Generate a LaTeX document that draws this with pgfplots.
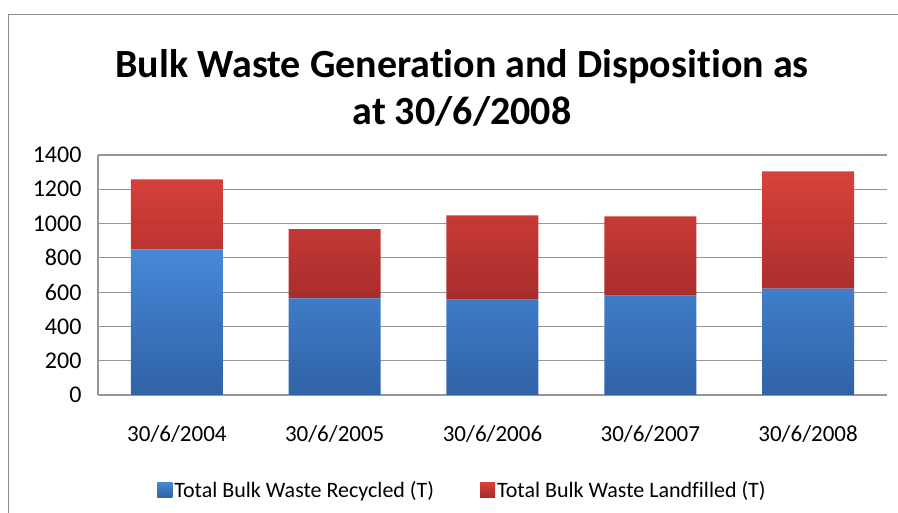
\documentclass[border=0pt]{standalone}
\usepackage{pgfplots}
\pgfplotsset{compat=1.18}
\usepackage{fontspec}
\setmainfont[Ligatures=NoCommon]{Carlito}
\definecolor{bluetop}{RGB}{70,136,216}
\definecolor{bluebot}{RGB}{48,98,166}
\definecolor{redtop}{RGB}{216,66,58}
\definecolor{redbot}{RGB}{168,44,44}
\definecolor{gridgray}{RGB}{150,150,150}
\begin{document}
\begin{tikzpicture}[x=1pt,y=1pt]
\path[use as bounding box] (0,0) rectangle (898,513);
\draw[gray!90, line width=1.2pt] (8.5,0) -- (8.5,498.5) -- (898,498.5);
\node[font=\fontsize{40}{47}\bfseries\selectfont, align=center] at (462,425) {Bulk Waste Generation and Disposition as\\at 30/6/2008};
\begin{axis}[at={(98pt,118pt)}, anchor=south west, scale only axis,
  width=789pt, height=240pt,
  ybar stacked, bar width=92pt,
  ymin=0, ymax=1400, ytick={0,200,...,1400},
  xmin=-0.5, xmax=4.5, xtick={0,1,2,3,4},
  xticklabels={30/6/2004,30/6/2005,30/6/2006,30/6/2007,30/6/2008},
  axis x line*=bottom, axis y line*=left,
  axis line style={gridgray, line width=1.2pt},
  ymajorgrids, grid style={gridgray, line width=1.2pt},
  major tick length=0pt,
  xticklabel style={font=\fontsize{23}{27}\selectfont, yshift=-27pt},
  yticklabel style={font=\fontsize{24}{28}\selectfont, xshift=-13pt},
  /pgf/number format/assume math mode=true,
  /pgf/number format/set thousands separator={},
  legend style={at={(0.462,-0.396)}, anchor=center, draw=none, legend columns=2,
    font=\fontsize{22}{26}\selectfont, /tikz/every even column/.append style={column sep=44pt}},
  legend image code/.code={\path[#1, draw=none] (0pt,-7pt) rectangle (15pt,8pt);},
]
\addplot[draw=none, top color=bluetop, bottom color=bluebot] coordinates {(0,850) (1,563) (2,557) (3,580) (4,621)};
\addplot[draw=none, top color=redtop, bottom color=redbot] coordinates {(0,408) (1,404) (2,491) (3,462) (4,683)};
\legend{Total Bulk Waste Recycled (T), Total Bulk Waste Landfilled (T)}
\end{axis}
\end{tikzpicture}
\end{document}
